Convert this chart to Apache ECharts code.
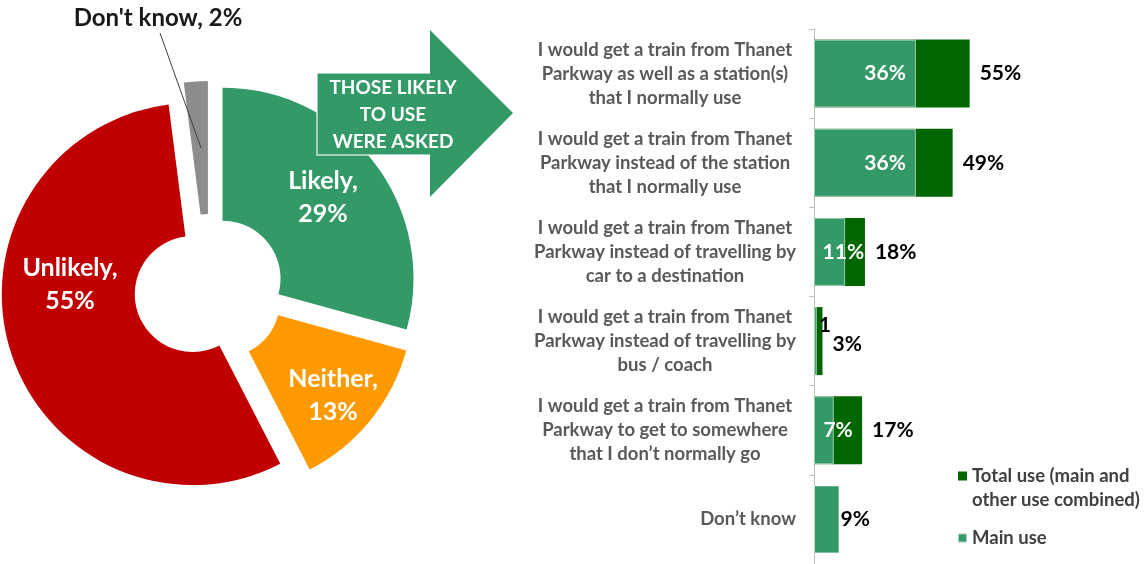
<!DOCTYPE html>
<html>
<head>
<meta charset="utf-8">
<script src="https://cdn.jsdelivr.net/npm/echarts@6/dist/echarts.min.js"></script>
<style>
  html, body { margin: 0; padding: 0; background: #fff; }
  #chart { width: 1144px; height: 564px; }
</style>
</head>
<body>
<div id="chart"></div>
<script>
// pie: likelihood of using Thanet Parkway
const pieNames = ['Likely', 'Neither', 'Unlikely', "Don't know"]
const pieValues = [29, 13, 55, 2]
const pieColors = ['#339966', '#FF9900', '#C00000', '#8C8C8C']

// bars: how those likely to use it would use it
const reasons = [
  'I would get a train from Thanet\nParkway as well as a station(s)\nthat I normally use',
  'I would get a train from Thanet\nParkway instead of the station\nthat I normally use',
  'I would get a train from Thanet\nParkway instead of travelling by\ncar to a destination',
  'I would get a train from Thanet\nParkway instead of travelling by\nbus / coach',
  'I would get a train from Thanet\nParkway to get to somewhere\nthat I don\u2019t normally go',
  'Don\u2019t know',
]
const mainUse = [36, 36, 11, 1, 7, 9]
const totalUse = [55, 49, 18, 3, 17, '-']

const FONT = 'Lato'
const TOTAL_NAME = 'Total use (main and\nother use combined)'

// pie geometry + where its labels sit (label centres)
const PIE_CENTER = [209, 289]
const EXPLODE = 17
const pieLabelPos = [[323, 197], [333, 395], [70, 284], [158, 18]]
const OUTSIDE = 3 // the slice whose label sits outside with a leader line

const chart = echarts.init(document.getElementById('chart'))

const pieLabelLayout = (params) => {
  const p = pieLabelPos[params.dataIndex]
  const out = { x: p[0], y: p[1], align: 'center', verticalAlign: 'middle' }
  if (params.dataIndex === OUTSIDE) out.labelLinePoints = [[201, 148], [160, 33], [160, 33]]
  return out
}

// one pie series per slice so each slice can be pulled out along its mid angle
const pieSum = pieValues.reduce((a, b) => a + b, 0)
let cum = 0
const pieSeries = pieValues.map((v, k) => {
  const mid = ((cum + v / 2) / pieSum) * 2 * Math.PI
  cum += v
  const center = [PIE_CENTER[0] + EXPLODE * Math.sin(mid), PIE_CENTER[1] - EXPLODE * Math.cos(mid)]
  return {
    type: 'pie',
    center,
    radius: [58, 191],
    startAngle: 90,
    silent: true,
    emphasis: { disabled: true },
    label: {
      show: true,
      position: 'inside',
      formatter: '{b},\n{c}%',
      color: '#fff',
      fontFamily: FONT,
      fontWeight: 'bold',
      fontSize: 25,
      lineHeight: 33,
    },
    labelLine: { show: false },
    data: pieNames.map((name, i) => {
      const item = { name, value: pieValues[i] }
      if (i !== k || i === OUTSIDE) item.label = { show: false }
      item.itemStyle = { color: i === k ? pieColors[i] : 'rgba(0,0,0,0)' }
      return item
    }),
    labelLayout: pieLabelLayout,
  }
})

// transparent copy on top that only carries the outside label and its leader line
const outsideLabelSeries = {
  type: 'pie',
  center: PIE_CENTER,
  radius: [58, 191],
  startAngle: 90,
  silent: true,
  z: 5,
  emphasis: { disabled: true },
  data: pieNames.map((name, i) => ({
    name,
    value: pieValues[i],
    itemStyle: { color: 'rgba(0,0,0,0)' },
    label: i === OUTSIDE
      ? {
          show: true,
          position: 'outside',
          color: '#1a1a1a',
          fontFamily: FONT,
          fontWeight: 'bold',
          fontSize: 24,
          overflow: 'none',
          formatter: '{b}, {c}%',
        }
      : { show: false },
    labelLine: i === OUTSIDE
      ? { show: true, showAbove: true, lineStyle: { color: '#404040', width: 1 } }
      : { show: false },
  })),
  labelLayout: pieLabelLayout,
}

const mainLabel = (i) => {
  if (i === 3) return { position: 'right', distance: 2, color: '#000', formatter: '1', offset: [0, -16] }
  if (i === 5) return { position: 'right', distance: 1, color: '#000' }
  if (i === 2 || i === 4) return { offset: [29, 0] }
  return {}
}

const option = {
  animation: false,
  backgroundColor: '#fff',
  legend: {
    orient: 'vertical',
    left: 957,
    top: 440,
    padding: 0,
    icon: 'rect',
    itemWidth: 9,
    itemHeight: 9,
    itemGap: 14,
    selectedMode: false,
    data: [TOTAL_NAME, 'Main use'],
    // leading blank line keeps the square level with the first text line
    formatter: (name) => (name.indexOf('\n') >= 0 ? ' \n' + name : name),
    textStyle: { fontFamily: FONT, fontWeight: 'bold', fontSize: 18.5, color: '#404040', lineHeight: 24 },
  },
  grid: { left: 814, top: 29, width: 283, height: 539 },
  xAxis: { type: 'value', min: 0, max: 100, show: false },
  yAxis: {
    type: 'category',
    inverse: true,
    data: reasons,
    axisLine: { show: true, lineStyle: { color: '#BFBFBF' } },
    axisTick: { show: true, length: 5, lineStyle: { color: '#BFBFBF' } },
    axisLabel: {
      align: 'center',
      margin: 149,
      color: '#595959',
      fontFamily: FONT,
      fontWeight: 'bold',
      fontSize: 18.5,
      lineHeight: 24,
      formatter: (v) => (v.indexOf('\n') < 0 ? '{r|' + v + '}' : v),
      rich: {
        r: { width: 262, align: 'right', color: '#595959', fontFamily: FONT, fontWeight: 'bold', fontSize: 18.5 },
      },
    },
  },
  graphic: [
    {
      type: 'polygon',
      z: 100,
      shape: { points: [[317, 73], [430, 73], [430, 30], [513, 113], [430, 197], [430, 155], [317, 155]] },
      style: { fill: '#339966' },
    },
    {
      type: 'polyline',
      z: 101,
      shape: { points: [[430, 73], [317, 73], [317, 155], [430, 155]] },
      style: { stroke: 'rgba(255,255,255,0.75)', lineWidth: 1.5, fill: null },
    },
    {
      type: 'text',
      z: 102,
      x: 393,
      y: 115,
      style: {
        text: 'THOSE LIKELY\nTO USE\nWERE ASKED',
        fill: '#fff',
        font: 'bold 19px Lato',
        align: 'center',
        verticalAlign: 'middle',
        lineHeight: 27,
      },
    },
  ],
  series: [
    ...pieSeries,
    outsideLabelSeries,
    {
      name: TOTAL_NAME,
      type: 'bar',
      barWidth: 68,
      barGap: '-100%',
      itemStyle: { color: '#006600' },
      emphasis: { disabled: true },
      label: {
        show: true,
        position: 'right',
        distance: 10,
        color: '#000',
        fontFamily: FONT,
        fontWeight: 'bold',
        fontSize: 21,
        formatter: '{c}%',
      },
      data: totalUse.map((v, i) => ({ value: v, label: i === 3 ? { offset: [0, 3] } : {} })),
    },
    {
      name: 'Main use',
      type: 'bar',
      barWidth: 68,
      barGap: '-100%',
      itemStyle: { color: '#339966', borderColor: 'rgba(255,255,255,0.6)', borderWidth: 1 },
      emphasis: { disabled: true },
      label: {
        show: true,
        position: 'insideRight',
        distance: 10,
        color: '#fff',
        fontFamily: FONT,
        fontWeight: 'bold',
        fontSize: 21,
        formatter: '{c}%',
      },
      data: mainUse.map((v, i) => ({ value: v, label: mainLabel(i) })),
    },
  ],
}

chart.setOption(option)
</script>
</body>
</html>
